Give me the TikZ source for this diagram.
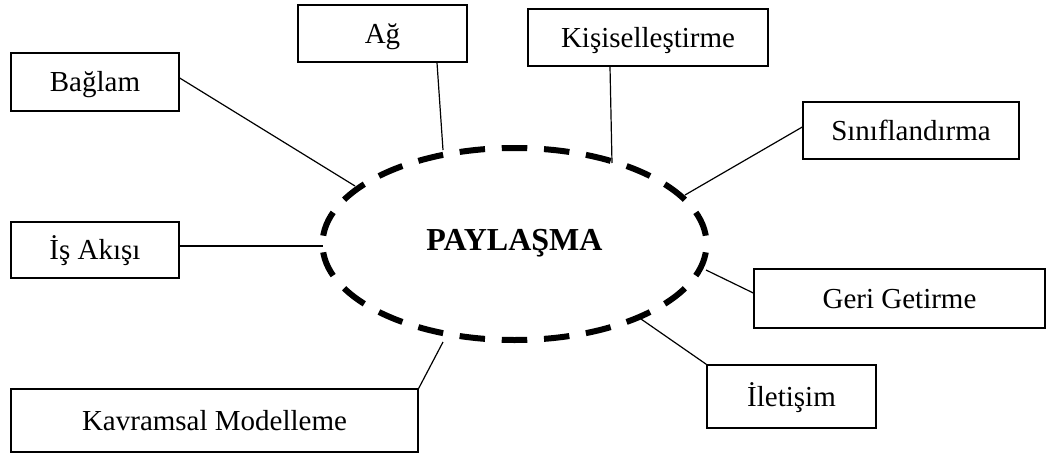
\documentclass[tikz,border=0pt]{standalone}
\usepackage{fontspec}
\setmainfont{Liberation Serif}
\usetikzlibrary{shapes.geometric}
\begin{document}
\begin{tikzpicture}[x=1pt,y=-1pt,
  topic/.style={draw,line width=1.4pt,inner sep=0pt,
    font=\fontsize{29}{34}\selectfont,text height=19pt,text depth=0pt},
  link/.style={line width=1.2pt},
  hub/.style={ellipse,draw,line width=6pt,
    dash pattern=on 25.5pt off 16.78pt,dash phase=33.9pt,
    minimum width=384pt,minimum height=192pt,inner sep=0pt,
    font=\fontsize{32}{36}\selectfont\bfseries,text height=22pt,text depth=10pt}]
\useasboundingbox (0,0) rectangle (1047,453);

% central concept
\node[hub] (pay) at (514.5,244) {PAYLAŞMA};

% surrounding topics
\node[topic,minimum width=168pt,minimum height=58pt] (bag)  at (95,82)      {Bağlam};
\node[topic,minimum width=169pt,minimum height=57pt] (ag)   at (382.5,33.5) {Ağ};
\node[topic,minimum width=240pt,minimum height=57pt] (kis)  at (648,37.5)   {Kişiselleştirme};
\node[topic,minimum width=216pt,minimum height=57pt] (sin)  at (911,130.5)  {Sınıflandırma};
\node[topic,minimum width=168pt,minimum height=56pt] (isa)  at (95,250)     {İş Akışı};
\node[topic,minimum width=291pt,minimum height=59pt] (geri) at (899.5,298.5){Geri Getirme};
\node[topic,minimum width=169pt,minimum height=63pt] (ilet) at (791.5,396.5){İletişim};
\node[topic,minimum width=407pt,minimum height=63pt] (kav)  at (214.5,420.5){Kavramsal Modelleme};

% points where the links meet the dashed ring
\coordinate (pBag)  at (355,186);
\coordinate (pAg)   at (443,150);
\coordinate (pKis)  at (612,163);
\coordinate (pSin)  at (685,195);
\coordinate (pGeri) at (706,270);
\coordinate (pIlet) at (641,319);
\coordinate (pIsa)  at (323,246);
\coordinate (pKav)  at (443,342);

% links
\draw[link] ([yshift=4pt]bag.east) -- (pBag);
\draw[link] ([xshift=54.5pt]ag.south) -- (pAg);
\draw[link] ([xshift=-38pt]kis.south) -- (pKis);
\draw[link] ([yshift=3.5pt]sin.west) -- (pSin);
\draw[link] ([yshift=5.5pt]geri.west) -- (pGeri);
\draw[link] (ilet.north west) -- (pIlet);
\draw[link] ([yshift=4pt]isa.east) -- (pIsa);
\draw[link] (kav.north east) -- (pKav);
\end{tikzpicture}
\end{document}
